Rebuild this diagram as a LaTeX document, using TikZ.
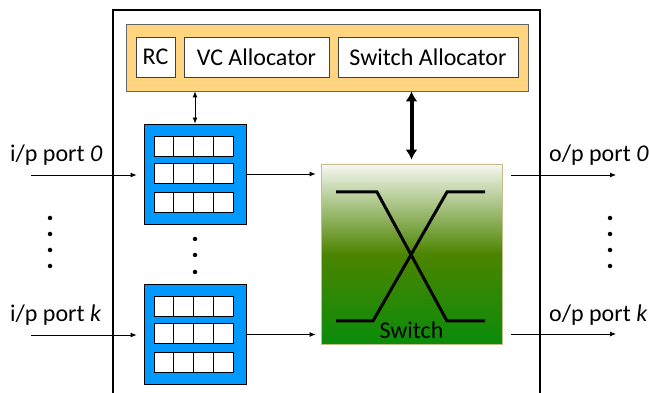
\documentclass[tikz,border=0pt]{standalone}
\usepackage{fontspec}
\setmainfont{Carlito}
\usetikzlibrary{arrows.meta}

\definecolor{ctrlorange}{HTML}{FFD580}
\definecolor{bufblue}{HTML}{0099FF}
\definecolor{swtop}{HTML}{F6F8F2}
\definecolor{swmid}{HTML}{4C8400}
\definecolor{swbot}{HTML}{0A8C0A}
\definecolor{swedge}{HTML}{C4BE8C}

\tikzset{
    unit/.style={draw=black!75, fill=white, line width=0.8pt, minimum height=40pt, inner sep=0pt},
    vcbuf/.style={draw, fill=bufblue, line width=0.8pt, minimum width=102pt, minimum height=100pt},
    link/.style={-{Latex[length=6pt,width=5pt]}, line width=0.8pt},
    dot/.style={circle, fill, inner sep=0pt, minimum size=4.5pt},
}

\begin{document}
\begin{tikzpicture}[x=1pt, y=-1pt, font=\fontsize{24}{28}\selectfont]
    \useasboundingbox (0,0) rectangle (649,393);

    % Router outline
    \draw[line width=2.5pt] (113,400) -- (113,10) -- (540,10) -- (540,400);

    % Control logic
    \node[draw=black!60, fill=ctrlorange, line width=0.8pt, minimum width=402pt, minimum height=67pt] (ctrl) at (327,57.5) {};
    \node[unit, minimum width=39pt] (rc) at (155.5,57) {RC};
    \node[unit, minimum width=145pt] (vca) at (256.5,57) {VC Allocator};
    \node[unit, minimum width=180pt] (sa) at (428,57) {Switch Allocator};

    % Input buffers
    \node[vcbuf] (buf0) at (195,174) {};
    \node[vcbuf] (bufk) at (195,334.5) {};
    \foreach \b in {buf0,bufk}
        \foreach \ry in {-38,-11,18}
            \foreach \cx in {-41,-21.25,-1.5,18.25}
                \draw[shift={(\b.center)}, fill=white, line width=0.8pt] (\cx,\ry) rectangle ++(19.75,20);

    % Crossbar
    \node[draw=swedge, line width=0.8pt, minimum width=181pt, minimum height=180pt,
          top color=swtop, bottom color=swbot, middle color=swmid] (xbar) at (411.5,254) {};
    \draw[line width=3pt] (336,192) -- (377,192) -- (447,321) -- (485,321);
    \draw[line width=3pt] (336,321) -- (373,321) -- (447,192) -- (485,192);
    \node[anchor=base, inner sep=0pt] (xbarlbl) at (411.5,338) {Switch};

    % Ports
    \coordinate (in0) at (31,175);
    \coordinate (ink) at (31,335);
    \coordinate (out0) at (616,175);
    \coordinate (outk) at (616,334);
    \node[anchor=base west, inner sep=0pt] (lin0) at (10,162) {i/p port \textit{0}};
    \node[anchor=base west, inner sep=0pt] (link) at (10,322) {i/p port \textit{k}};
    \node[anchor=base west, inner sep=0pt] (lout0) at (549,162) {o/p port \textit{0}};
    \node[anchor=base west, inner sep=0pt] (loutk) at (549,322) {o/p port \textit{k}};

    % Links
    \draw[link, shorten >=7pt] (in0) -- (in0 -| buf0.west);
    \draw[link, shorten >=7pt] (ink) -- (ink -| bufk.west);
    \draw[link, shorten >=5pt] (buf0.east) -- (buf0.east -| xbar.west);
    \draw[link, shorten >=5pt] (bufk.east) -- (bufk.east -| xbar.west);
    \draw[link, shorten <=9pt] (out0 -| xbar.east) -- (out0);
    \draw[link, shorten <=9pt] (outk -| xbar.east) -- (outk);
    \draw[link, {Latex[length=6pt,width=5pt]}-{Latex[length=6pt,width=5pt]}] (buf0.north) -- (buf0.north |- ctrl.south);
    \draw[{Latex[length=10pt,width=12pt]}-{Latex[length=10pt,width=12pt]}, line width=4pt, shorten >=4pt]
        (xbar.north |- ctrl.south) -- (xbar.north);

    % Dots
    \foreach \y in {218,234,250,266} {
        \node[dot] at (50,\y) {};
        \node[dot] at (610,\y) {};
    }
    \foreach \y in {239,255,272}
        \node[dot] at (195,\y) {};
\end{tikzpicture}
\end{document}
